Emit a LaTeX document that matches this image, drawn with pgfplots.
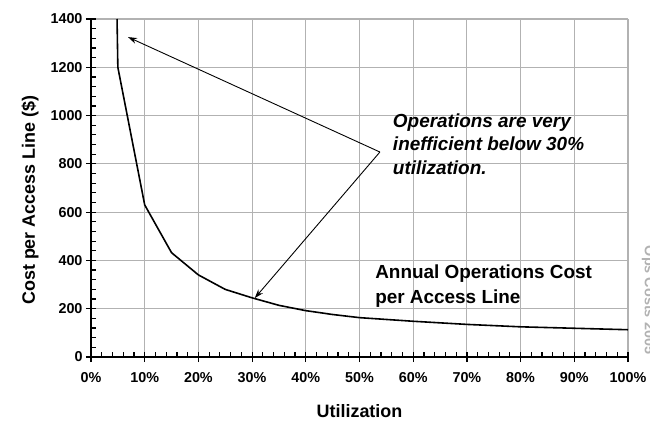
\documentclass[border=0pt]{standalone}
\usepackage{fontspec}
\setmainfont{Liberation Sans}
\usepackage{pgfplots}
\pgfplotsset{compat=1.18}
\usetikzlibrary{arrows.meta}
\begin{document}
\begin{tikzpicture}
\begin{axis}[
  scale only axis, width=537bp, height=338bp,
  at={(0,0)}, anchor=south west,
  xmin=0, xmax=100, ymin=0, ymax=1400,
  axis x line*=bottom, axis y line*=left,
  axis line style={-, black},
  x axis line style={line width=2.2pt},
  y axis line style={line width=1.6pt},
  xtick={0,10,...,100}, ytick={0,200,...,1400},
  minor x tick num=4, minor y tick num=4,
  grid=major, major grid style={gray!60, line width=1.1pt},
  tick align=inside,
  major tick length=5bp, minor tick length=5bp,
  tick style={black, line width=1.2pt},
  extra x ticks={0,10,...,100}, extra x tick labels={},
  extra x tick style={tick align=outside, grid=none, major tick length=5bp},
  extra y ticks={0,200,...,1400}, extra y tick labels={},
  extra y tick style={tick align=outside, grid=none, major tick length=5bp},
  /pgf/number format/assume math mode=true,
  /pgf/number format/1000 sep={},
  xticklabel={\pgfmathprintnumber{\tick}\%},
  tick label style={font=\Large\bfseries},
  xticklabel style={anchor=north, yshift=-12bp},
  yticklabel style={anchor=east, xshift=-5bp},
  xlabel={Utilization}, ylabel={Cost per Access Line (\$)},
  label style={font=\fontsize{18}{20}\selectfont\bfseries},
  xlabel style={at={(axis description cs:0.5,-0.16)}, anchor=center},
  ylabel style={at={(axis description cs:-0.1136,0.464)}, anchor=center},
]
\addplot[black, line width=1.6pt] coordinates {
(4.85,1400) (5,1200) (10,630) (15,432) (20,340) (25,280) (30,245) (35,214)
(40,192) (45,176) (50,163) (60,148) (70,135) (80,125) (90,119) (100,113)};
\draw[-{Stealth[length=9bp,width=6bp]}, line width=0.9pt] (axis cs:53.8,849) -- (axis cs:6.9,1325);
\draw[-{Stealth[length=9bp,width=6bp]}, line width=0.9pt] (axis cs:53.8,849) -- (axis cs:30.5,244);
\node[anchor=north west, align=left, font=\fontsize{19}{24}\selectfont\bfseries\itshape, inner sep=0] at (axis cs:56.2,1010) {Operations are very\\inefficient below 30\%\\utilization.};
\node[anchor=north west, align=left, font=\fontsize{19}{25}\selectfont\bfseries, inner sep=0] at (axis cs:52.9,381) {Annual Operations Cost\\per Access Line};
\end{axis}
\node[rotate=-90, text=gray!60, font=\fontsize{14.5}{16}\selectfont\bfseries] at (557.5bp,57bp) {Ops Costs 2005};
\pgfresetboundingbox
\useasboundingbox (-91bp,-68bp) rectangle (559bp,357bp);
\end{tikzpicture}
\end{document}
